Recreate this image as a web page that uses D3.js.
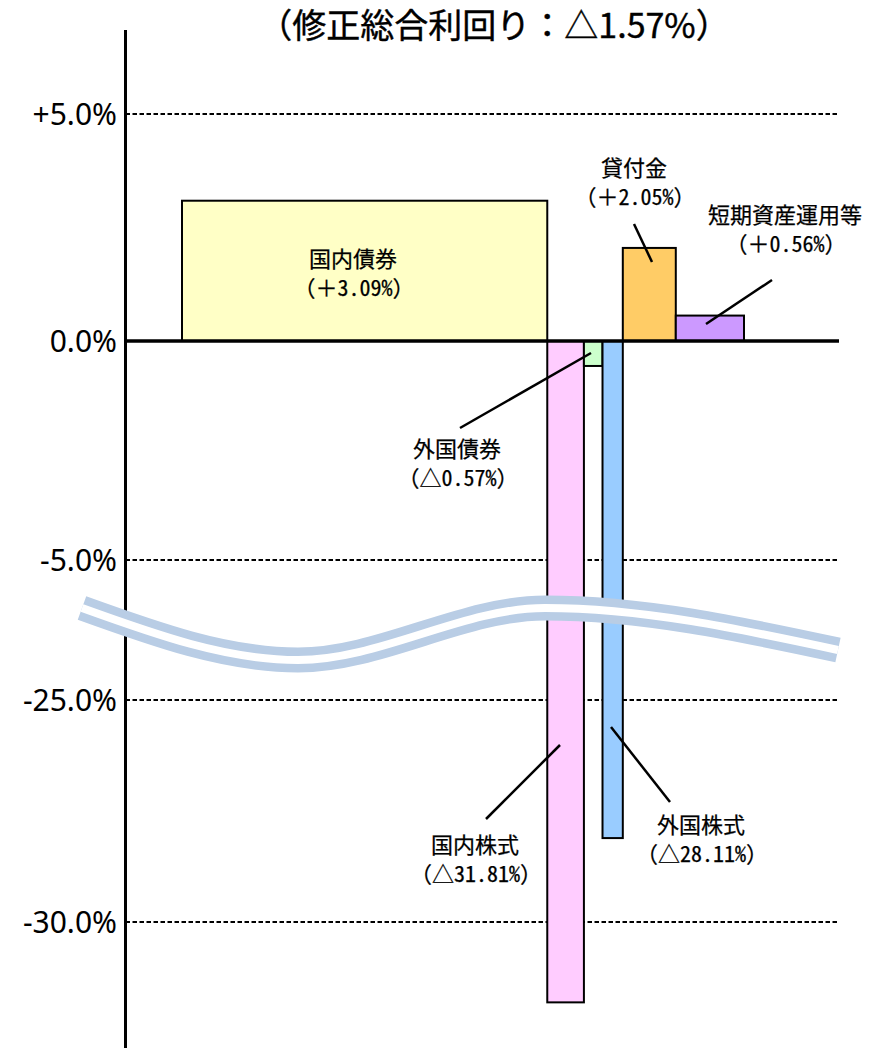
<!DOCTYPE html>
<html>
<head>
<meta charset="utf-8">
<script src="https://cdn.jsdelivr.net/npm/d3@7"></script>
<style>
  html, body { margin: 0; padding: 0; background: #fff; }
  svg { display: block; }
  .hw { font-feature-settings: "hwid"; }
</style>
</head>
<body>
<svg id="chart" width="880" height="1048"></svg>
<script>
// ---- data ----
const categories = ["国内債券", "国内株式", "外国債券", "外国株式", "貸付金", "短期資産運用等"];
const values     = [3.09, -31.81, -0.57, -28.11, 2.05, 0.56];
const weights    = [64.8, 6.5, 3.3, 3.6, 9.4, 12.1];   // bar widths (allocation share, %)
const totalYield = -1.57;
const tickValues = [5, 0, -5, -25, -30];
const tickLabels = ["+5.0%", "0.0%", "-5.0%", "-25.0%", "-30.0%"];

// ---- styles / layout ----
const fills = ["#ffffc6", "#ffccff", "#ccffcc", "#99ccff", "#ffcc66", "#cc99ff"];
const labelLayout = [
  {x: 353, y: 259, line: null},
  {x: 475, y: 845, line: [[560, 745], [486, 819]]},
  {x: 457, y: 449, line: [[591, 353], [460, 428]]},
  {x: 701, y: 825, line: [[611, 727], [670, 802]]},
  {x: 634, y: 168, line: [[634, 224], [652, 262]]},
  {x: 785, y: 215, line: [[706, 324], [772, 280]]}
];

const svg = d3.select("#chart");
const axisX = 125.5, gridRight = 839;

// broken (piecewise) y scale
const yUpper = d3.scaleLinear().domain([-5, 0, 5]).range([560, 341, 114]);
const yLower = d3.scaleLinear().domain([-30, -25]).range([922, 700]);
const y = v => (v >= -5 ? yUpper(v) : yLower(v));

const x = d3.scaleLinear().domain([0, d3.sum(weights)]).range([182, 744]);
const cum = [0, ...d3.cumsum(weights)];

// gridlines (dashed) for non-zero ticks
svg.append("g").selectAll("line")
  .data(tickValues.filter(v => v !== 0))
  .join("line")
  .attr("x1", axisX).attr("x2", gridRight)
  .attr("y1", d => y(d)).attr("y2", d => y(d))
  .attr("stroke", "#000").attr("stroke-width", 2.2)
  .attr("stroke-dasharray", "4.5,2.5");

// bars
svg.append("g").selectAll("rect")
  .data(values)
  .join("rect")
  .attr("x", (d, i) => x(cum[i]))
  .attr("width", (d, i) => x(cum[i + 1]) - x(cum[i]))
  .attr("y", d => Math.min(y(0), y(d)))
  .attr("height", d => Math.abs(y(d) - y(0)))
  .attr("fill", (d, i) => fills[i])
  .attr("stroke", "#000").attr("stroke-width", 2);

// zero line
svg.append("line")
  .attr("x1", axisX).attr("x2", gridRight)
  .attr("y1", y(0)).attr("y2", y(0))
  .attr("stroke", "#000").attr("stroke-width", 3.5);

// y axis line
svg.append("line")
  .attr("x1", axisX).attr("x2", axisX)
  .attr("y1", 30).attr("y2", 1048)
  .attr("stroke", "#000").attr("stroke-width", 3);

// tick labels
svg.append("g").selectAll("text")
  .data(tickValues)
  .join("text")
  .attr("x", 117)
  .attr("y", d => y(d))
  .attr("dy", "0.36em")
  .attr("text-anchor", "end")
  .attr("font-family", "'Noto Sans', 'DejaVu Sans', sans-serif")
  .attr("font-size", 30)
  .attr("fill", "#000")
  .text((d, i) => tickLabels[i]);

// leader lines
svg.append("g").selectAll("line")
  .data(labelLayout.filter(d => d.line))
  .join("line")
  .attr("x1", d => d.line[0][0]).attr("y1", d => d.line[0][1])
  .attr("x2", d => d.line[1][0]).attr("y2", d => d.line[1][1])
  .attr("stroke", "#000").attr("stroke-width", 2.5);

// value labels
const lab = svg.append("g")
  .attr("font-family", "'Noto Sans CJK JP', sans-serif")
  .attr("font-size", 22)
  .attr("fill", "#000")
  .attr("stroke", "#000").attr("stroke-width", 0.25)
  .attr("text-anchor", "middle");
categories.forEach((c, i) => {
  const L = labelLayout[i];
  const v = values[i];
  lab.append("text").attr("x", L.x).attr("y", L.y).attr("dy", "0.36em").text(c);
  const t = lab.append("text").attr("x", L.x + 1).attr("y", L.y + 29).attr("dy", "0.36em");
  t.append("tspan").text(v >= 0 ? "（＋" : "（△");
  t.append("tspan").attr("class", "hw").text(Math.abs(v).toFixed(2) + "%");
  t.append("tspan").text("）");
});

// title
svg.append("text")
  .attr("x", 494).attr("y", 26).attr("dy", "0.36em")
  .attr("text-anchor", "middle")
  .attr("font-family", "'Noto Sans CJK JP', sans-serif")
  .attr("font-size", 34)
  .attr("fill", "#000")
  .attr("stroke", "#000").attr("stroke-width", 0.4)
  .text("（修正総合利回り：" + (totalYield < 0 ? "△" : "＋") + Math.abs(totalYield).toFixed(2) + "%）");

// axis break symbol (decoration)
const breakPts = [[82, 608], [298, 660], [545, 608], [838, 650]];
const breakLine = d3.line().curve(d3.curveMonotoneX);
svg.append("path")
  .attr("d", breakLine(breakPts))
  .attr("fill", "none").attr("stroke", "#b9cde5")
  .attr("stroke-width", 25).attr("stroke-linecap", "butt");
svg.append("path")
  .attr("d", breakLine(breakPts))
  .attr("fill", "none").attr("stroke", "#fff")
  .attr("stroke-width", 8).attr("stroke-linecap", "butt");
</script>
</body>
</html>
